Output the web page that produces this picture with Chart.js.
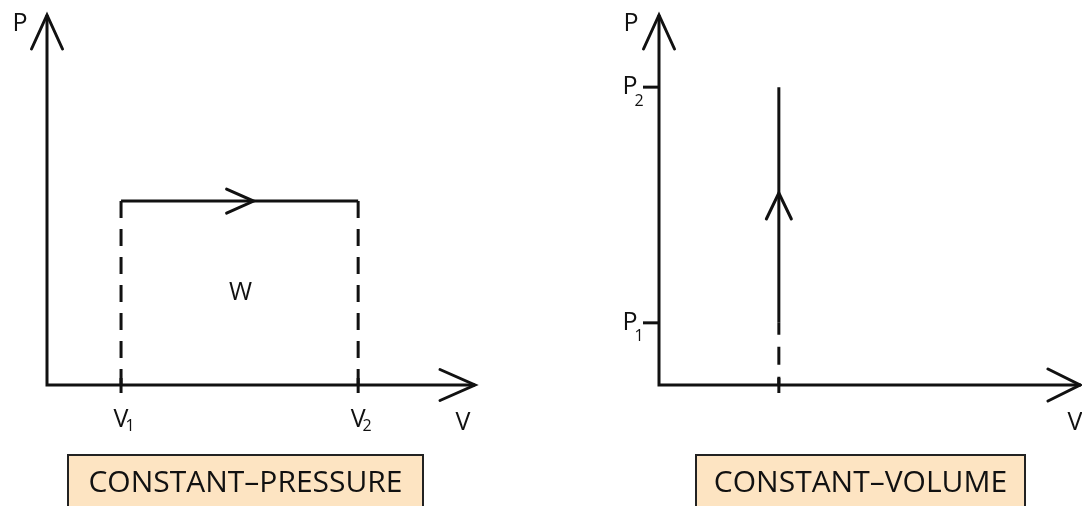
<!DOCTYPE html>
<html>
<head>
<meta charset="utf-8">
<script src="https://cdn.jsdelivr.net/npm/chart.js@4"></script>
<style>
html,body{margin:0;padding:0;background:#fff;}
#wrap{position:relative;width:1082px;height:506px;overflow:hidden;}
canvas{position:absolute;top:0;}
</style>
</head>
<body>
<div id="wrap">
<canvas id="pressureChart" width="541" height="506" style="left:0"></canvas>
<canvas id="volumeChart" width="541" height="506" style="left:541px"></canvas>
</div>
<script>
// both diagrams use 0..axisMax on each axis
var axisMax = 10;
var axisNames = ['V', 'P'];

// constant pressure: V1 -> V2 at fixed P
var cpVolumes = [1.73, 7.27];
var cpVolumeLabels = [['V', '1'], ['V', '2']];
var cpPressure = 4.97;
var cpAreaLabel = 'W';

// constant volume: P1 -> P2 at fixed V
var cvVolume = 2.84;
var cvPressures = [1.68, 8.05];
var cvPressureLabels = [['P', '1'], ['P', '2']];

var captions = ['CONSTANT\u2013PRESSURE', 'CONSTANT\u2013VOLUME'];

var ink = '#111';
var labelFont = '25px "Open Sans"';
var subFont = '16px "Open Sans"';

function seg(points, dash, dashOffset) {
  return {
    data: points,
    showLine: true,
    borderColor: ink,
    borderWidth: 3,
    borderDash: dash || [],
    borderDashOffset: dashOffset || 0,
    borderCapStyle: 'butt',
    borderJoinStyle: 'miter',
    pointRadius: 0,
    fill: false,
    clip: false
  };
}

function arrowHead(ctx, tx, ty, dx, dy, len, half) {
  var bx = tx - dx * len, by = ty - dy * len;
  ctx.beginPath();
  ctx.moveTo(bx - dy * half, by + dx * half);
  ctx.lineTo(tx, ty);
  ctx.lineTo(bx + dy * half, by - dx * half);
  ctx.stroke();
}

function tick(ctx, x1, y1, x2, y2) {
  ctx.beginPath();
  ctx.moveTo(x1, y1);
  ctx.lineTo(x2, y2);
  ctx.stroke();
}

function label(ctx, text, cx, cy) {
  ctx.font = labelFont;
  ctx.textAlign = 'center';
  ctx.textBaseline = 'middle';
  ctx.fillText(text, cx, cy);
}

function subLabel(ctx, pair, cx, cy, subDy) {
  label(ctx, pair[0], cx, cy);
  var w = ctx.measureText(pair[0]).width;
  ctx.font = subFont;
  ctx.textAlign = 'left';
  ctx.fillText(pair[1], cx + w / 2 - 3, cy + subDy);
}

function caption(ctx, text, left, width, textWidth) {
  var top = 455;
  ctx.fillStyle = '#fde4c2';
  ctx.fillRect(left, top, width, 60);
  ctx.strokeStyle = '#222';
  ctx.lineWidth = 2;
  ctx.beginPath();
  ctx.moveTo(left, 520);
  ctx.lineTo(left, top);
  ctx.lineTo(left + width, top);
  ctx.lineTo(left + width, 520);
  ctx.stroke();
  ctx.fillStyle = ink;
  ctx.font = '30px "Open Sans"';
  ctx.textAlign = 'center';
  ctx.textBaseline = 'alphabetic';
  ctx.fillText(text, left + width / 2, 492, textWidth);
}

function pvChart(id, pad, datasets, draw) {
  return new Chart(document.getElementById(id), {
    type: 'scatter',
    data: { datasets: datasets },
    options: {
      responsive: false,
      animation: false,
      devicePixelRatio: 1,
      layout: { padding: pad },
      plugins: { legend: { display: false }, tooltip: { enabled: false } },
      scales: {
        x: { type: 'linear', display: false, min: 0, max: axisMax },
        y: { type: 'linear', display: false, min: 0, max: axisMax }
      }
    },
    plugins: [{ id: 'notes', afterDatasetsDraw: draw }]
  });
}

// constant pressure diagram
pvChart('pressureChart', { left: 47, right: 66, top: 15, bottom: 121 }, [
  seg([{ x: 0, y: axisMax }, { x: 0, y: 0 }, { x: axisMax, y: 0 }]),
  seg([{ x: cpVolumes[0], y: cpPressure }, { x: cpVolumes[1], y: cpPressure }]),
  seg([{ x: cpVolumes[0], y: cpPressure }, { x: cpVolumes[0], y: 0 }], [17, 11]),
  seg([{ x: cpVolumes[1], y: cpPressure }, { x: cpVolumes[1], y: 0 }], [17, 11])
], function (chart) {
  var ctx = chart.ctx, xs = chart.scales.x, ys = chart.scales.y;
  var ox = xs.getPixelForValue(0), oy = ys.getPixelForValue(0);
  var top = ys.getPixelForValue(axisMax), end = xs.getPixelForValue(axisMax);
  ctx.save();
  ctx.strokeStyle = ink;
  ctx.fillStyle = ink;
  ctx.lineWidth = 3;
  ctx.lineCap = 'round';
  arrowHead(ctx, ox, top, 0, -1, 34, 15.5);
  arrowHead(ctx, end, oy, 1, 0, 35, 15.5);
  var py = ys.getPixelForValue(cpPressure);
  var x1 = xs.getPixelForValue(cpVolumes[0]), x2 = xs.getPixelForValue(cpVolumes[1]);
  arrowHead(ctx, (x1 + x2) / 2 + 14, py, 1, 0, 27, 12);
  ctx.lineCap = 'butt';
  cpVolumes.forEach(function (v, i) {
    var px = xs.getPixelForValue(v);
    tick(ctx, px, oy - 7, px, oy + 8);
    subLabel(ctx, cpVolumeLabels[i], px, oy + 35, 6);
  });
  label(ctx, axisNames[1], ox - 27, top + 9);
  label(ctx, axisNames[0], end - 12, oy + 38);
  label(ctx, cpAreaLabel, (x1 + x2) / 2 + 1, (py + oy) / 2);
  caption(ctx, captions[0], 68, 355, 318);
  ctx.restore();
});

// constant volume diagram
pvChart('volumeChart', { left: 118, right: 1, top: 15, bottom: 121 }, [
  seg([{ x: 0, y: axisMax }, { x: 0, y: 0 }, { x: axisMax, y: 0 }]),
  seg([{ x: cvVolume, y: cvPressures[1] }, { x: cvVolume, y: cvPressures[0] }]),
  seg([{ x: cvVolume, y: cvPressures[0] }, { x: cvVolume, y: 0 }], [18, 12], 6)
], function (chart) {
  var ctx = chart.ctx, xs = chart.scales.x, ys = chart.scales.y;
  var ox = xs.getPixelForValue(0), oy = ys.getPixelForValue(0);
  var top = ys.getPixelForValue(axisMax), end = xs.getPixelForValue(axisMax);
  ctx.save();
  ctx.strokeStyle = ink;
  ctx.fillStyle = ink;
  ctx.lineWidth = 3;
  ctx.lineCap = 'round';
  arrowHead(ctx, ox, top, 0, -1, 34, 15.5);
  arrowHead(ctx, end - 1, oy, 1, 0, 32, 16);
  var vx = xs.getPixelForValue(cvVolume);
  var y1 = ys.getPixelForValue(cvPressures[0]), y2 = ys.getPixelForValue(cvPressures[1]);
  arrowHead(ctx, vx, (y1 + y2) / 2 - 12, 0, -1, 26, 12.5);
  ctx.lineCap = 'butt';
  tick(ctx, vx, oy - 7, vx, oy + 8);
  cvPressures.forEach(function (p, i) {
    var py = ys.getPixelForValue(p);
    tick(ctx, ox - 16, py, ox, py);
    subLabel(ctx, cvPressureLabels[i], ox - 29, py, 14);
  });
  label(ctx, axisNames[1], ox - 28, top + 9);
  label(ctx, axisNames[0], end - 6, oy + 38);
  caption(ctx, captions[1], 155, 329, 295);
  ctx.restore();
});
</script>
</body>
</html>
